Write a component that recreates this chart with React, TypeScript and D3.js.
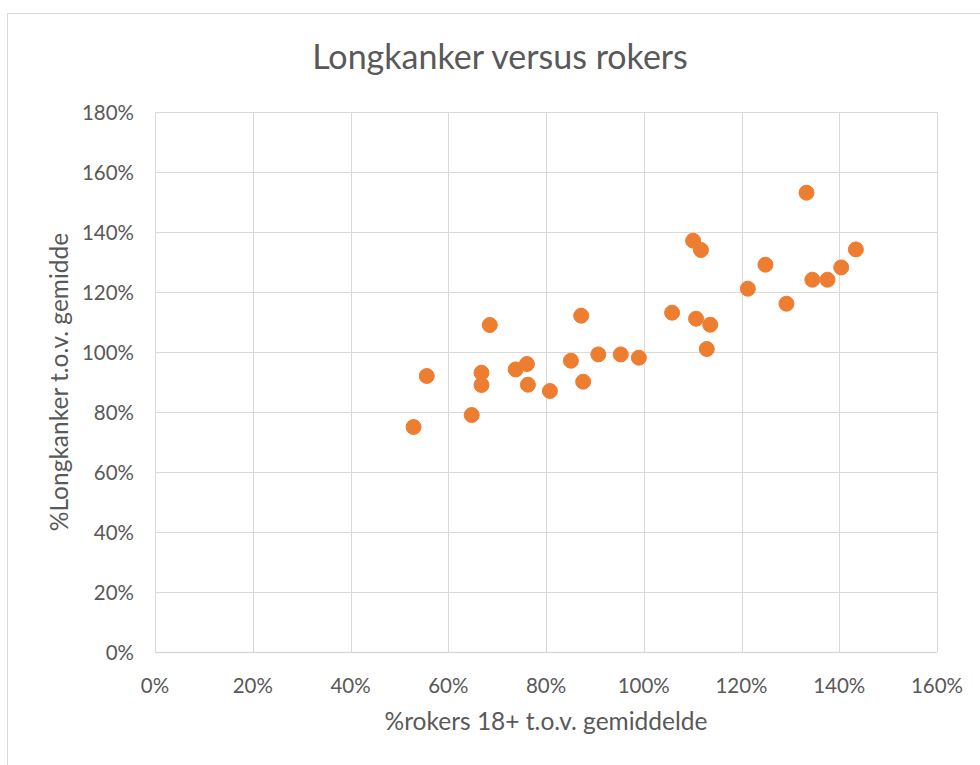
import { useEffect, useRef } from 'react';
import * as d3 from 'd3';

// Scatter of lung cancer % vs smokers % (both relative to the average)
const ROKERS = [
  52.9, 55.6, 64.8, 66.8, 66.8, 68.5, 73.8, 76.1, 76.3, 80.8,
  85.1, 87.6, 87.2, 90.7, 95.3, 99.0, 105.8, 110.1, 111.7, 110.7,
  113.6, 112.9, 121.3, 124.9, 129.2, 133.3, 134.5, 137.6, 140.4, 143.4,
];
const LONGKANKER = [
  75.0, 92.0, 79.0, 93.1, 89.0, 109.0, 94.2, 96.0, 89.1, 87.0,
  97.1, 90.1, 112.1, 99.2, 99.2, 98.1, 113.1, 137.1, 134.0, 111.1,
  109.1, 101.0, 121.1, 129.1, 116.1, 153.1, 124.1, 124.1, 128.2, 134.2,
];
const X_TICKS = [0, 20, 40, 60, 80, 100, 120, 140, 160];
const Y_TICKS = [0, 20, 40, 60, 80, 100, 120, 140, 160, 180];

const TITLE = 'Longkanker versus rokers';
const X_TITLE = '%rokers 18+ t.o.v. gemiddelde';
const Y_TITLE = '%Longkanker t.o.v. gemidde';

const WIDTH = 980;
const HEIGHT = 765;
const PLOT = { left: 155, right: 937, top: 112, bottom: 652 } as const;
const FONT = 'Lato, "Open Sans", sans-serif';
const TEXT_COLOR = '#595959';
const GRID_COLOR = '#d9d9d9';
const DOT_COLOR = '#ed7d31';

export default function App() {
  const svgRef = useRef<SVGSVGElement | null>(null);

  useEffect(() => {
    const svgEl = svgRef.current;
    if (!svgEl) return;
    const svg = d3.select(svgEl);
    svg.selectAll('*').remove();

    const xScale = d3.scaleLinear().domain([0, 160]).range([PLOT.left, PLOT.right]);
    const yScale = d3.scaleLinear().domain([0, 180]).range([PLOT.bottom, PLOT.top]);

    // ---- chart area border ---------------------------------------------
    svg
      .append('rect')
      .attr('x', 7.5)
      .attr('y', 13.5)
      .attr('width', 1000)
      .attr('height', 800)
      .attr('fill', '#ffffff')
      .attr('stroke', GRID_COLOR)
      .attr('stroke-width', 1);

    // ---- title ---------------------------------------------------------
    svg
      .append('text')
      .attr('x', 500)
      .attr('y', 69)
      .attr('text-anchor', 'middle')
      .attr('font-family', FONT)
      .attr('font-size', 34)
      .attr('fill', TEXT_COLOR)
      .text(TITLE);

    // ---- grid ----------------------------------------------------------
    const grid = svg.append('g').attr('class', 'grid');
    grid
      .selectAll('line.h')
      .data(Y_TICKS)
      .join('line')
      .attr('class', 'h')
      .attr('x1', PLOT.left)
      .attr('x2', PLOT.right)
      .attr('y1', (d) => Math.round(yScale(d)) + 0.5)
      .attr('y2', (d) => Math.round(yScale(d)) + 0.5)
      .attr('stroke', GRID_COLOR)
      .attr('stroke-width', (d) => (d === 0 ? 1.5 : 1));
    grid
      .selectAll('line.v')
      .data(X_TICKS)
      .join('line')
      .attr('class', 'v')
      .attr('x1', (d) => Math.round(xScale(d)) + 0.5)
      .attr('x2', (d) => Math.round(xScale(d)) + 0.5)
      .attr('y1', PLOT.top)
      .attr('y2', PLOT.bottom)
      .attr('stroke', GRID_COLOR)
      .attr('stroke-width', 1);

    // ---- tick labels ---------------------------------------------------
    svg
      .append('g')
      .selectAll('text')
      .data(X_TICKS)
      .join('text')
      .attr('x', (d) => xScale(d))
      .attr('y', 693)
      .attr('text-anchor', 'middle')
      .attr('font-family', FONT)
      .attr('font-size', 20.5)
      .attr('fill', TEXT_COLOR)
      .text((d) => `${d}%`);
    svg
      .append('g')
      .selectAll('text')
      .data(Y_TICKS)
      .join('text')
      .attr('x', 134)
      .attr('y', (d) => yScale(d) + 7.5)
      .attr('text-anchor', 'end')
      .attr('font-family', FONT)
      .attr('font-size', 20.5)
      .attr('fill', TEXT_COLOR)
      .text((d) => `${d}%`);

    // ---- axis titles ---------------------------------------------------
    svg
      .append('text')
      .attr('x', (PLOT.left + PLOT.right) / 2)
      .attr('y', 730)
      .attr('text-anchor', 'middle')
      .attr('font-family', FONT)
      .attr('font-size', 24.5)
      .attr('fill', TEXT_COLOR)
      .text(X_TITLE);
    svg
      .append('text')
      .attr('transform', `translate(68, ${(PLOT.top + PLOT.bottom) / 2}) rotate(-90)`)
      .attr('text-anchor', 'middle')
      .attr('font-family', FONT)
      .attr('font-size', 24.5)
      .attr('fill', TEXT_COLOR)
      .text(Y_TITLE);

    // ---- points --------------------------------------------------------
    svg
      .append('g')
      .selectAll('circle')
      .data(ROKERS.map((x, i) => ({ x, y: LONGKANKER[i] })))
      .join('circle')
      .attr('cx', (d) => xScale(d.x))
      .attr('cy', (d) => yScale(d.y))
      .attr('r', 7.5)
      .attr('fill', DOT_COLOR)
      .attr('stroke', DOT_COLOR)
      .attr('stroke-width', 1);
  }, []);

  return (
    <svg
      ref={svgRef}
      width={WIDTH}
      height={HEIGHT}
      viewBox={`0 0 ${WIDTH} ${HEIGHT}`}
      style={{ position: 'absolute', left: 0, top: 0, display: 'block' }}
    />
  );
}
